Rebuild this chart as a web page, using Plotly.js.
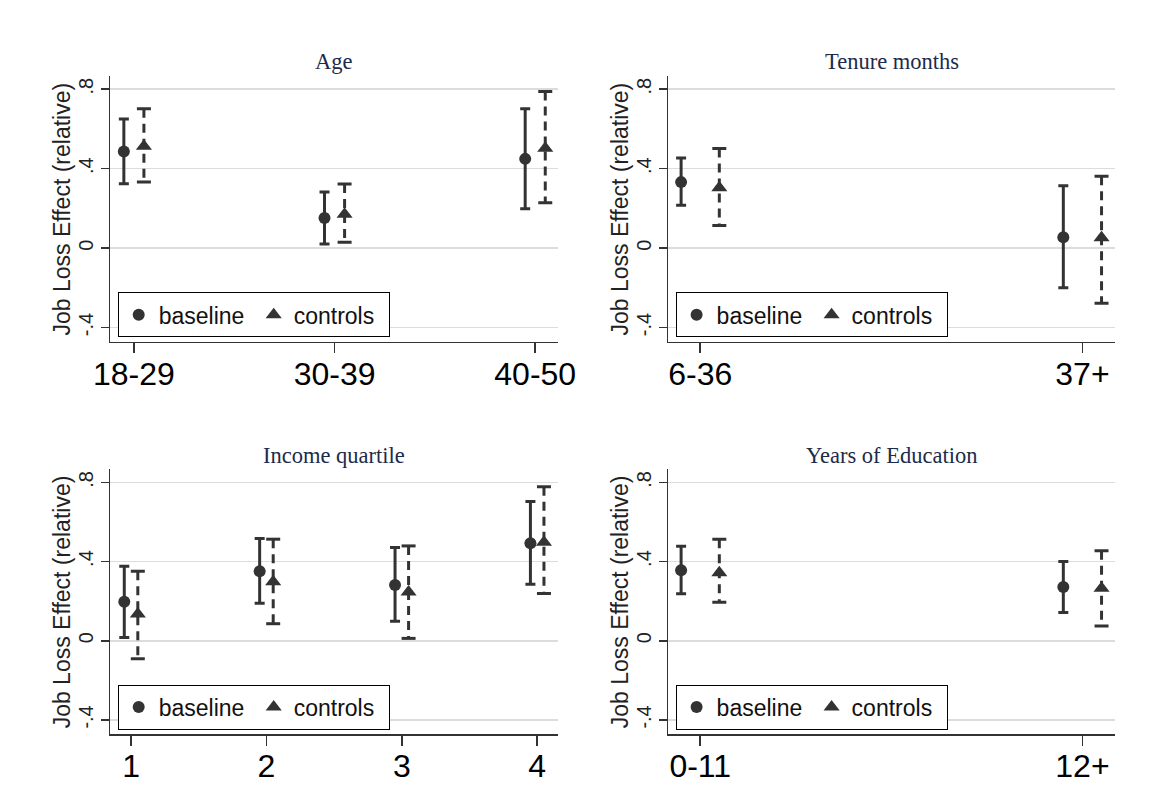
<!DOCTYPE html>
<html>
<head>
<meta charset="utf-8">
<script src="https://cdn.plot.ly/plotly-3.0.1.min.js"></script>
<style>html,body{margin:0;padding:0;background:#fff;}#chart{width:1151px;height:786px;}</style>
</head>
<body>
<div id="chart"></div>
<script>
// ---- Data ----
var panelTitles = ['Age', 'Tenure months', 'Income quartile', 'Years of Education'];
var seriesNames = ['baseline', 'controls'];

var ageCats = ['18-29', '30-39', '40-50'];
var ageBase = [0.486, 0.151, 0.449];
var ageBaseLo = [0.324, 0.020, 0.198];
var ageBaseHi = [0.649, 0.282, 0.701];
var ageCtrl = [0.512, 0.170, 0.502];
var ageCtrlLo = [0.332, 0.030, 0.228];
var ageCtrlHi = [0.701, 0.322, 0.788];

var tenCats = ['6-36', '37+'];
var tenBase = [0.332, 0.055];
var tenBaseLo = [0.216, -0.200];
var tenBaseHi = [0.453, 0.314];
var tenCtrl = [0.304, 0.052];
var tenCtrlLo = [0.114, -0.277];
var tenCtrlHi = [0.501, 0.361];

var incCats = ['1', '2', '3', '4'];
var incBase = [0.197, 0.351, 0.282, 0.492];
var incBaseLo = [0.017, 0.190, 0.099, 0.286];
var incBaseHi = [0.376, 0.516, 0.471, 0.703];
var incCtrl = [0.135, 0.298, 0.246, 0.498];
var incCtrlLo = [-0.091, 0.086, 0.012, 0.239];
var incCtrlHi = [0.351, 0.513, 0.479, 0.778];

var eduCats = ['0-11', '12+'];
var eduBase = [0.356, 0.271];
var eduBaseLo = [0.237, 0.143];
var eduBaseHi = [0.477, 0.400];
var eduCtrl = [0.344, 0.265];
var eduCtrlLo = [0.195, 0.074];
var eduCtrlHi = [0.513, 0.454];

var yTickVals = [-0.4, 0, 0.4, 0.8];
var yTickText = ['-.4', '0', '.4', '.8'];
var yTitle = 'Job Loss Effect (relative)';

// ---- Build ----
var panels = [
  {cats: ageCats, b: ageBase, bl: ageBaseLo, bh: ageBaseHi, c: ageCtrl, cl: ageCtrlLo, ch: ageCtrlHi},
  {cats: tenCats, b: tenBase, bl: tenBaseLo, bh: tenBaseHi, c: tenCtrl, cl: tenCtrlLo, ch: tenCtrlHi},
  {cats: incCats, b: incBase, bl: incBaseLo, bh: incBaseHi, c: incCtrl, cl: incCtrlLo, ch: incCtrlHi},
  {cats: eduCats, b: eduBase, bl: eduBaseLo, bh: eduBaseHi, c: eduCtrl, cl: eduCtrlLo, ch: eduCtrlHi}
];

var W = 1151, H = 786;
var col = '#333333';
// plot-area pixel boxes [left, right, top, bottom]
var boxes = [
  [110.2, 557.9, 76, 341.7],
  [668.1, 1115.3, 76, 341.7],
  [110.2, 557.9, 469.3, 734],
  [668.1, 1115.3, 469.3, 734]
];
var pad = {3: [0.882, 3.113], 2: [0.916, 2.086], 4: [0.846, 4.153]};
var off = 0.05;

var traces = [];
var layout = {
  width: W, height: H,
  margin: {l: 0, r: 0, t: 0, b: 0},
  paper_bgcolor: '#ffffff', plot_bgcolor: '#ffffff',
  font: {family: 'Arial, Liberation Sans, sans-serif', color: '#222'},
  annotations: [],
  showlegend: true
};

panels.forEach(function (p, i) {
  var k = i === 0 ? '' : String(i + 1);
  var xa = 'x' + k, ya = 'y' + k;
  var legName = i === 0 ? 'legend' : 'legend' + (i + 1);
  var n = p.cats.length;
  var idx = p.cats.map(function (_, j) { return j + 1; });
  var xb = idx.map(function (v) { return v - off; });
  var xc = idx.map(function (v) { return v + off; });

  // baseline: circles + solid CI
  traces.push({
    type: 'scatter', mode: 'markers', name: seriesNames[0],
    x: xb, y: p.b, xaxis: xa, yaxis: ya, legend: legName, showlegend: true,
    marker: {symbol: 'circle', size: 12, color: col},
    error_y: {
      type: 'data', symmetric: false,
      array: p.bh.map(function (v, j) { return v - p.b[j]; }),
      arrayminus: p.b.map(function (v, j) { return v - p.bl[j]; }),
      color: col, thickness: 3, width: 5
    },
    hoverinfo: 'skip'
  });

  // controls: dashed CI lines
  var lx = [], ly = [];
  xc.forEach(function (x, j) { lx.push(x, x, null); ly.push(p.ch[j], p.cl[j], null); });
  traces.push({
    type: 'scatter', mode: 'lines', x: lx, y: ly, xaxis: xa, yaxis: ya,
    line: {color: col, width: 3, dash: '9px,6px'}, showlegend: false, hoverinfo: 'skip',
    legend: legName
  });
  // caps
  traces.push({
    type: 'scatter', mode: 'markers', x: xc.concat(xc), y: p.ch.concat(p.cl), xaxis: xa, yaxis: ya,
    marker: {symbol: 'line-ew', size: 10, color: col, line: {color: col, width: 3}},
    showlegend: false, hoverinfo: 'skip', legend: legName
  });
  // triangles
  traces.push({
    type: 'scatter', mode: 'markers', name: seriesNames[1],
    x: xc, y: p.c, xaxis: xa, yaxis: ya, legend: legName, showlegend: true,
    marker: {symbol: 'triangle-up', size: 14, color: col},
    hoverinfo: 'skip'
  });

  var b = boxes[i];
  var xd = [b[0] / W, b[1] / W];
  var yd = [1 - b[3] / H, 1 - b[2] / H];
  layout['xaxis' + k] = {
    domain: xd, anchor: ya, range: pad[n],
    tickmode: 'array', tickvals: idx, ticktext: p.cats,
    ticks: 'outside', ticklen: 10, tickwidth: 1.5, tickcolor: col,
    ticklabelstandoff: -7,
    showline: true, linecolor: col, linewidth: 1.5,
    showgrid: false, zeroline: false, fixedrange: true,
    tickfont: {size: 32, color: '#000', family: 'Arial, Liberation Sans, sans-serif'}
  };
  layout['yaxis' + k] = {
    domain: yd, anchor: xa, range: [-0.471, 0.866],
    tickmode: 'array', tickvals: yTickVals, ticktext: yTickText, tickangle: -90,
    ticks: 'outside', ticklen: 8, tickwidth: 1.5, tickcolor: col,
    showline: true, linecolor: col, linewidth: 1.5,
    showgrid: true, gridcolor: '#dcdcdc', gridwidth: 1.5,
    zeroline: false, fixedrange: true,
    tickfont: {size: 20, color: '#222'}
  };
  layout[legName] = {
    x: (b[0] + 7.5) / W, y: 1 - (b[3] - 49.4) / H, xanchor: 'left', yanchor: 'top',
    xref: 'paper', yref: 'paper',
    orientation: 'h', bgcolor: '#fff', bordercolor: '#000', borderwidth: 1,
    entrywidth: 90, entrywidthmode: 'pixels',
    font: {size: 23, color: '#111'}
  };
  // panel title
  layout.annotations.push({
    text: panelTitles[i], xref: 'paper', yref: 'paper',
    x: (xd[0] + xd[1]) / 2, y: 1 - (b[2] - 14.3) / H, xanchor: 'center', yanchor: 'middle',
    showarrow: false,
    font: {family: 'Liberation Serif, Times New Roman, serif', size: 22.5, color: '#1c2b4b'}
  });
  // y-axis title
  layout.annotations.push({
    text: yTitle, xref: 'paper', yref: 'paper', textangle: -90,
    x: (b[0] - 48.5) / W, y: (yd[0] + yd[1]) / 2, xanchor: 'center', yanchor: 'middle',
    showarrow: false,
    font: {size: 23, color: '#222'}
  });
});

Plotly.newPlot('chart', traces, layout, {displayModeBar: false, staticPlot: true});
</script>
</body>
</html>
